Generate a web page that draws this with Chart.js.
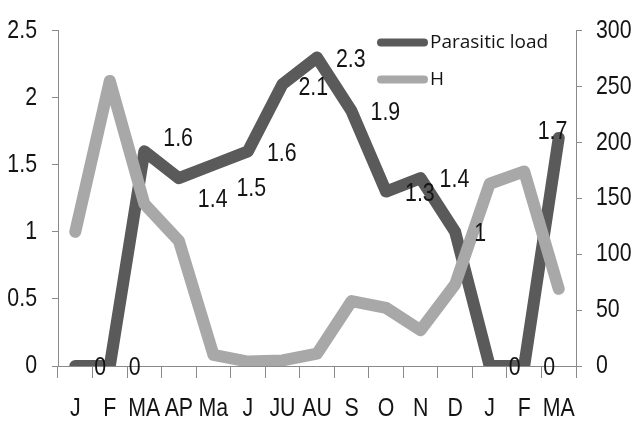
<!DOCTYPE html>
<html><head><meta charset="utf-8">
<script src="https://cdn.jsdelivr.net/npm/chart.js@4.4.1/dist/chart.umd.min.js"></script>
<style>html,body{margin:0;padding:0;background:#fff;overflow:hidden}#wrap{width:632px;height:421px;position:relative}</style>
</head><body><div id="wrap"><canvas id="c"></canvas></div>
<script>
const categories = ['J','F','MA','AP','Ma','J','JU','AU','S','O','N','D','J','F','MA'];
const parasiticLoad = [0,0,1.6,1.4,1.5,1.6,2.1,2.3,1.9,1.3,1.4,1,0,0,1.7];
const hValues = [120,255,145,112,10,4,5,11,58,52,32,73,163,174,69];
const leftTicks = [0,0.5,1,1.5,2,2.5];
const rightTicks = [0,50,100,150,200,250,300];
const seriesNames = ['Parasitic load','H'];

const FONT = '"Liberation Sans", Arial, sans-serif';
const SQUEEZE = 0.82; // horizontal compression for the narrow (Calibri-like) axis text
const DARK = '#5a5a5a', LIGHT = '#a8a8a8', AXIS = '#8a8a8a', TXT = '#141414';
// label offsets (px) relative to default "right of point" placement
const labelNudge = {2:[0,-15],3:[0,20],4:[4,22],6:[-3,2],14:[-40,-8]};

const canvas = document.getElementById('c');
const ctx2d = canvas.getContext('2d');
const origFill = ctx2d.fillText.bind(ctx2d);
ctx2d.fillText = function(t, x, y, mw){
  if (this.font.indexOf('Liberation') >= 0) {
    this.save(); this.translate(x, y); this.scale(SQUEEZE, 1);
    origFill(t, 0, 0); this.restore();
  } else if (mw === undefined) { origFill(t, x, y); } else { origFill(t, x, y, mw); }
};

const dataLabels = {
  id:'dataLabels',
  afterDatasetsDraw(chart){
    const ctx = chart.ctx, meta = chart.getDatasetMeta(0);
    ctx.save();
    ctx.font = '26px ' + FONT;
    ctx.fillStyle = TXT;
    ctx.textAlign = 'left';
    ctx.textBaseline = 'middle';
    meta.data.forEach((pt,i)=>{
      const n = labelNudge[i] || [0,0];
      ctx.fillText(String(parasiticLoad[i]), pt.x + 19 + n[0], pt.y + 2 + n[1]);
    });
    ctx.restore();
  }
};

const legendBox = {
  id:'legendBox',
  afterDraw(chart){
    const ctx = chart.ctx, a = chart.chartArea;
    const x0 = a.left + 319, x1 = a.left + 370, tx = a.left + 372;
    const ys = [a.top + 12, a.top + 49];
    const cols = [DARK, LIGHT];
    ctx.save();
    ctx.lineCap = 'round';
    ctx.lineWidth = 8;
    ctx.font = '19px "Open Sans", "DejaVu Sans", sans-serif';
    ctx.textBaseline = 'middle';
    ctx.textAlign = 'left';
    seriesNames.forEach((nm,i)=>{
      ctx.strokeStyle = cols[i];
      ctx.beginPath(); ctx.moveTo(x0+4, ys[i]); ctx.lineTo(x1-4, ys[i]); ctx.stroke();
      ctx.fillStyle = TXT;
      ctx.fillText(nm, tx, ys[i]);
    });
    ctx.restore();
  }
};

new Chart(canvas, {
  type:'line',
  data:{
    labels: categories,
    datasets:[
      {label: seriesNames[0], data: parasiticLoad, yAxisID:'y', borderColor: DARK, backgroundColor: DARK,
       borderWidth: 12, pointRadius: 0, tension: 0, borderJoinStyle:'round', borderCapStyle:'round', order: 1},
      {label: seriesNames[1], data: hValues, yAxisID:'y1', borderColor: LIGHT, backgroundColor: LIGHT,
       borderWidth: 12, pointRadius: 0, tension: 0, borderJoinStyle:'round', borderCapStyle:'round', order: 0}
    ]
  },
  options:{
    responsive:true, maintainAspectRatio:false, animation:false, devicePixelRatio:1,
    layout:{padding:{top:25,left:0,right:0,bottom:0}},
    plugins:{legend:{display:false}, tooltip:{enabled:false}},
    scales:{
      x:{
        offset:true,
        grid:{offset:true, drawOnChartArea:false, drawTicks:true, tickLength:12, color:AXIS},
        border:{display:true, color:AXIS, width:1},
        ticks:{font:{family:FONT, size:26}, color:TXT, padding:15, maxRotation:0, autoSkip:false},
        afterFit(s){ s.height = 55; }
      },
      y:{
        position:'left', min:0, max:2.5,
        afterBuildTicks(s){ s.ticks = leftTicks.map(v=>({value:v})); },
        grid:{drawOnChartArea:false, drawTicks:true, tickLength:6, color:AXIS},
        border:{display:true, color:AXIS, width:1},
        ticks:{font:{family:FONT, size:26}, color:TXT, padding:15, callback:v=>String(v)},
        afterFit(s){ s.width = 58; }
      },
      y1:{
        position:'right', min:0, max:300,
        afterBuildTicks(s){ s.ticks = rightTicks.map(v=>({value:v})); },
        grid:{drawOnChartArea:false, drawTicks:true, tickLength:6, color:AXIS},
        border:{display:true, color:AXIS, width:1},
        ticks:{font:{family:FONT, size:26}, color:TXT, padding:14, callback:v=>String(v)},
        afterFit(s){ s.width = 56; }
      }
    }
  },
  plugins:[dataLabels, legendBox]
});
</script>
</body></html>
